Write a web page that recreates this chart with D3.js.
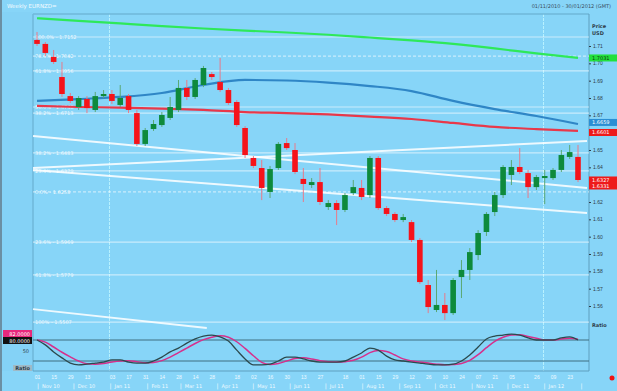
<!DOCTYPE html>
<html><head><meta charset="utf-8">
<script src="https://cdn.jsdelivr.net/npm/d3@7"></script>
<style>
body{margin:0;background:#87d5f8;}
svg{display:block;font-family:"DejaVu Sans",Arial,sans-serif;}
</style>
</head><body>
<svg id="c" width="617" height="391"></svg>
<script>
// ---------------- DATA ----------------
const title = "Weekly EURNZD=";
const rangeText = "01/11/2010 - 30/01/2012 (GMT)";
const startDate = new Date(2010, 10, 1);
const nWeeks = 66;
const dates = d3.timeMonday.range(startDate, d3.timeMonday.offset(startDate, nWeeks));

const open  = [1.7135,1.7112,1.7037,1.6921,1.6811,1.6748,1.6794,1.6731,1.6811,1.6823,1.6760,1.6811,1.6713,1.6535,1.6621,1.6644,1.6685,1.6731,1.6858,1.6806,1.6875,1.6938,1.6892,1.6846,1.6777,1.6627,1.6454,1.6396,1.6258,1.6396,1.6540,1.6500,1.6333,1.6298,1.6315,1.6171,1.6194,1.6154,1.6252,1.6281,1.6240,1.6454,1.6165,1.6131,1.6096,1.6084,1.5981,1.5721,1.5577,1.5606,1.5559,1.5767,1.5808,1.5894,1.6027,1.6142,1.6240,1.6356,1.6402,1.6367,1.6286,1.6338,1.6338,1.6385,1.6460,1.6460];
const high  = [1.7181,1.7123,1.7077,1.7008,1.6829,1.6811,1.6811,1.6835,1.6846,1.6846,1.6875,1.6823,1.6731,1.6627,1.6673,1.6719,1.6806,1.6904,1.6904,1.6915,1.6985,1.6950,1.7031,1.6858,1.6788,1.6638,1.6465,1.6442,1.6408,1.6546,1.6569,1.6540,1.6396,1.6338,1.6396,1.6211,1.6211,1.6252,1.6327,1.6327,1.6465,1.6465,1.6177,1.6142,1.6131,1.6096,1.5992,1.5750,1.5808,1.5675,1.5761,1.5865,1.5934,1.6038,1.6142,1.6258,1.6413,1.6442,1.6511,1.6385,1.6356,1.6385,1.6396,1.6500,1.6529,1.6529];
const low   = [1.7100,1.7042,1.6996,1.6806,1.6771,1.6731,1.6713,1.6719,1.6800,1.6765,1.6748,1.6713,1.6523,1.6523,1.6610,1.6633,1.6673,1.6719,1.6788,1.6794,1.6863,1.6904,1.6835,1.6760,1.6633,1.6454,1.6396,1.6211,1.6223,1.6385,1.6500,1.6361,1.6200,1.6281,1.6183,1.6154,1.6067,1.6142,1.6240,1.6211,1.6223,1.6154,1.6119,1.6084,1.6084,1.5969,1.5727,1.5559,1.5565,1.5519,1.5548,1.5646,1.5750,1.5865,1.6004,1.6119,1.6223,1.6298,1.6361,1.6223,1.6269,1.6188,1.6327,1.6373,1.6448,1.6315];
const close = [1.7112,1.7060,1.7008,1.6823,1.6783,1.6800,1.6742,1.6811,1.6823,1.6783,1.6800,1.6731,1.6535,1.6615,1.6650,1.6702,1.6748,1.6858,1.6806,1.6904,1.6973,1.6921,1.6846,1.6771,1.6644,1.6471,1.6408,1.6281,1.6390,1.6535,1.6511,1.6373,1.6304,1.6315,1.6200,1.6194,1.6154,1.6240,1.6286,1.6229,1.6454,1.6165,1.6131,1.6096,1.6113,1.5981,1.5738,1.5594,1.5606,1.5559,1.5750,1.5808,1.5911,1.6021,1.6131,1.6240,1.6402,1.6402,1.6373,1.6286,1.6344,1.6350,1.6385,1.6471,1.6488,1.6327];

// moving averages read at every 5th week
const maIdx   = [0,5,10,15,20,25,30,35,40,45,50,55,60,65];
const maGreen = [1.7260,1.7245,1.7230,1.7215,1.7201,1.7189,1.7178,1.7165,1.7149,1.7132,1.7112,1.7086,1.7057,1.7031];
const maBlue  = [1.6783,1.6794,1.6806,1.6829,1.6875,1.6904,1.6901,1.6889,1.6869,1.6840,1.6783,1.6736,1.6696,1.6650];
const maRed   = [1.6754,1.6748,1.6745,1.6739,1.6731,1.6719,1.6713,1.6705,1.6693,1.6679,1.6656,1.6633,1.6621,1.6610];

// slow stochastic
const stochK = [80,66,46,29,14,9,11,14,17,23,23,17,14,14,20,31,46,57,71,83,91,94,89,77,51,26,9,9,11,20,31,31,26,20,17,17,17,20,31,43,57,51,34,23,20,17,14,11,9,9,11,20,37,60,83,91,94,97,94,86,80,80,80,86,89,80];
const stochD = [80,74,60,45,32,20,12,11,13,17,20,21,18,15,16,21,31,44,57,70,81,88,92,88,75,56,35,16,10,13,20,27,29,26,21,18,17,18,22,31,44,50,47,37,26,20,17,14,11,9,10,13,22,38,58,76,88,94,95,90,85,80,80,83,85,82];
const stochLevels = [80, 20];

// fibonacci levels
const fibPrices = [1.7152,1.7042,1.6956,1.6748,1.6713,1.6483,1.6379,1.6258,1.5969,1.5779,1.5507];
const fibLabels = ["100.0% - 1.7152","78.6% - 1.7042","61.8% - 1.6956","50.0% - 1.6748","38.2% - 1.6713","38.2% - 1.6483","23.6% - 1.6379","0.0% - 1.6258","23.6% - 1.5969","61.8% - 1.5779","100% - 1.5507"];
const fibDashed = [false,true,false,false,false,false,false,true,false,false,false];

// trend lines (week offsets from first candle, price)
const trendX1 = [-0.48,-0.48,-0.48,-0.48];
const trendY1 = [1.6581,1.6396,1.6385,1.5582];
const trendX2 = [66.08,66.08,66.08,20.4];
const trendY2 = [1.6281,1.6552,1.6136,1.5473];

const priceTicks = [1.71,1.70,1.69,1.68,1.67,1.65,1.64,1.62,1.61,1.60,1.59,1.58,1.57,1.56];
const dayTickIdx = [0,2,4,6,9,11,13,15,17,19,21,24,26,28,30,32,34,37,39,41,43,45,47,49,51,53,55,57,60,62,64];
const lastBid = 1.6327, lastAsk = 1.6331;

// ---------------- DRAW ----------------
const svg = d3.select("#c");
const W = 617, H = 391;
const L = 33, R = 589, T = 14, B = 371;

const x = d3.scaleTime().domain([dates[0], dates[nWeeks-1]]).range([37, 578]);
const y = d3.scaleLinear().domain([1.56, 1.71]).range([306, 46]);
const ys = d3.scaleLinear().domain([20, 80]).range([361, 340]);
const weekDate = w => new Date(+dates[0] + w * 7 * 864e5);

// background
svg.append("rect").attr("width", W).attr("height", H).attr("fill", "#87d5f8");
svg.append("rect").attr("x", 0).attr("y", 0).attr("width", 2).attr("height", H).attr("fill", "#6b8fa3");
svg.append("rect").attr("x", 2).attr("y", 12).attr("width", L-2).attr("height", B-12).attr("fill", "#84d2f6");

// titles
svg.append("text").attr("x", 7).attr("y", 8).attr("font-size", 5.5).attr("fill", "#f4fbff").text(title);
svg.append("text").attr("x", 611).attr("y", 8).attr("text-anchor", "end").attr("font-size", 5).attr("fill", "#3a4e60").text(rangeText);

// year separators
[new Date(2011,0,1), new Date(2012,0,1)].forEach(d => {
  svg.append("line").attr("x1", x(d)).attr("x2", x(d)).attr("y1", T).attr("y2", B)
    .attr("stroke", "#b8f1ff").attr("stroke-width", 1).attr("stroke-dasharray", "3,1");
});

// frame
svg.append("line").attr("x1", L).attr("x2", R).attr("y1", T).attr("y2", T).attr("stroke", "#6fb7da").attr("stroke-width", 1.5);
svg.append("line").attr("x1", L).attr("x2", L).attr("y1", T).attr("y2", B).attr("stroke", "#6fb7da").attr("stroke-width", 1.5);
svg.append("line").attr("x1", R).attr("x2", R).attr("y1", T).attr("y2", B).attr("stroke", "#5f9fbf").attr("stroke-width", 1);
svg.append("line").attr("x1", L).attr("x2", R).attr("y1", B).attr("y2", B).attr("stroke", "#5f9fbf").attr("stroke-width", 1);

// fib lines
const fibG = svg.append("g");
fibPrices.forEach((p, i) => {
  fibG.append("line").attr("x1", L).attr("x2", R).attr("y1", y(p)).attr("y2", y(p))
    .attr("stroke", "#ffffff").attr("stroke-opacity", 0.55).attr("stroke-width", 1.2)
    .attr("stroke-dasharray", fibDashed[i] ? "3,2" : null);
  fibG.append("text").attr("x", L + 2).attr("y", y(p) + 2).attr("font-size", 5)
    .attr("fill", "#ffffff").attr("fill-opacity", 0.85).text(fibLabels[i]);
});

// moving averages
const maLine = d3.line().x((d, i) => x(dates[maIdx[i]])).y(d => y(d)).curve(d3.curveMonotoneX);
[[maGreen, "#2ee85a"], [maBlue, "#2f86c6"], [maRed, "#e8384a"]].forEach(([arr, col]) => {
  svg.append("path").datum(arr).attr("d", maLine).attr("fill", "none")
    .attr("stroke", col).attr("stroke-width", 2.2);
});

// trend lines
trendX1.forEach((w, i) => {
  svg.append("line").attr("x1", x(weekDate(w))).attr("y1", y(trendY1[i]))
    .attr("x2", x(weekDate(trendX2[i]))).attr("y2", y(trendY2[i]))
    .attr("stroke", "#ffffff").attr("stroke-opacity", 0.85).attr("stroke-width", 2);
});

// candles
const cw = 5.6;
const cg = svg.append("g");
dates.forEach((d, i) => {
  const up = close[i] >= open[i];
  const col = up ? "#0e8a3c" : "#f5131a";
  const cx = x(d);
  cg.append("line").attr("x1", cx).attr("x2", cx).attr("y1", y(high[i])).attr("y2", y(low[i]))
    .attr("stroke", up ? "#5aa874" : "#e87a8a").attr("stroke-width", 1);
  const top = y(Math.max(open[i], close[i])), bot = y(Math.min(open[i], close[i]));
  cg.append("rect").attr("x", cx - cw/2).attr("y", top).attr("width", cw)
    .attr("height", Math.max(1.5, bot - top)).attr("fill", col);
});

// right price axis
const axR = svg.append("g").attr("transform", `translate(${R},0)`)
  .call(d3.axisRight(y).tickValues(priceTicks).tickSize(2).tickFormat(d3.format(".2f")));
axR.select(".domain").remove();
axR.selectAll("text").attr("font-size", 5).attr("fill", "#2e3d4a").attr("x", 4);
axR.selectAll("line").attr("stroke", "#2e3d4a");
svg.append("text").attr("x", 592).attr("y", 28).attr("font-size", 5).attr("font-weight", "bold").attr("fill", "#2e3d4a").text("Price");
svg.append("text").attr("x", 592).attr("y", 35).attr("font-size", 5).attr("font-weight", "bold").attr("fill", "#2e3d4a").text("USD");

// right value labels
function tag(val, bg, fg, text2) {
  const yy = y(val);
  const h = text2 ? 13 : 7;
  svg.append("rect").attr("x", R).attr("y", yy - 3.5).attr("width", 28).attr("height", h).attr("fill", bg);
  svg.append("text").attr("x", R + 3).attr("y", yy + 2).attr("font-size", 5).attr("fill", fg).text(d3.format(".4f")(val));
  if (text2) svg.append("text").attr("x", R + 3).attr("y", yy + 8).attr("font-size", 5).attr("fill", fg).text(text2);
}
tag(maGreen[maGreen.length-1], "#22e03c", "#0d3a12");
tag(maBlue[maBlue.length-1] + 0.0009, "#2b8fd4", "#ffffff");
tag(maRed[maRed.length-1] - 0.0009, "#ee1a1a", "#ffffff");
tag(lastBid, "#ee1a1a", "#ffffff", d3.format(".4f")(lastAsk));

// stochastic panel
stochLevels.forEach(v => {
  svg.append("line").attr("x1", L).attr("x2", R).attr("y1", ys(v)).attr("y2", ys(v))
    .attr("stroke", "#3f6f80").attr("stroke-width", 1);
});
const sLine = d3.line().x((d, i) => x(dates[i])).y(d => ys(d)).curve(d3.curveMonotoneX);
svg.append("path").datum(stochD).attr("d", sLine).attr("fill", "none").attr("stroke", "#d6308c").attr("stroke-width", 1.5);
svg.append("path").datum(stochK).attr("d", sLine).attr("fill", "none").attr("stroke", "#2c4a4e").attr("stroke-width", 1.3);

svg.append("rect").attr("x", 3).attr("y", 330).attr("width", 29).attr("height", 7).attr("fill", "#e8287c");
svg.append("text").attr("x", 30).attr("y", 335.5).attr("text-anchor", "end").attr("font-size", 5).attr("fill", "#ffffff").text(d3.format(".4f")(stochD[nWeeks-1]));
svg.append("rect").attr("x", 3).attr("y", 337).attr("width", 29).attr("height", 7).attr("fill", "#111111");
svg.append("text").attr("x", 30).attr("y", 342.5).attr("text-anchor", "end").attr("font-size", 5).attr("fill", "#ffffff").text(d3.format(".4f")(stochK[nWeeks-1]));
svg.append("text").attr("x", 29).attr("y", 353).attr("text-anchor", "end").attr("font-size", 5).attr("fill", "#2e3d4a").text("50");
svg.append("rect").attr("x", 13).attr("y", 365).attr("width", 19).attr("height", 6).attr("fill", "#9fb9c6");
svg.append("text").attr("x", 30).attr("y", 370).attr("text-anchor", "end").attr("font-size", 5).attr("font-weight", "bold").attr("fill", "#2e3d4a").text("Ratio");
svg.append("text").attr("x", 592).attr("y", 327).attr("font-size", 5).attr("font-weight", "bold").attr("fill", "#2e3d4a").text("Ratio");
svg.append("circle").attr("cx", 612).attr("cy", 378).attr("r", 2.5).attr("fill", "#ee1111");

// x axis: days
const axB = svg.append("g").attr("transform", `translate(0,${B})`)
  .call(d3.axisBottom(x).tickValues(dayTickIdx.map(i => dates[i])).tickSize(0).tickFormat(d3.timeFormat("%d")));
axB.select(".domain").remove();
axB.selectAll("text").attr("font-size", 5).attr("fill", "#f0faff").attr("dy", "0.9em");

// x axis: months
const months = d3.timeMonth.range(d3.timeMonth.floor(dates[0]), d3.timeMonth.offset(dates[nWeeks-1], 1));
months.forEach(m => {
  const mx = Math.max(L, x(m));
  svg.append("text").attr("x", mx).attr("y", 388).attr("font-size", 6).attr("fill", "#f0faff").text("|");
  if (mx + 4 < R - 10)
    svg.append("text").attr("x", mx + 5).attr("y", 388).attr("font-size", 5).attr("fill", "#f0faff").text(d3.timeFormat("%b %y")(m));
});
</script>
</body></html>
